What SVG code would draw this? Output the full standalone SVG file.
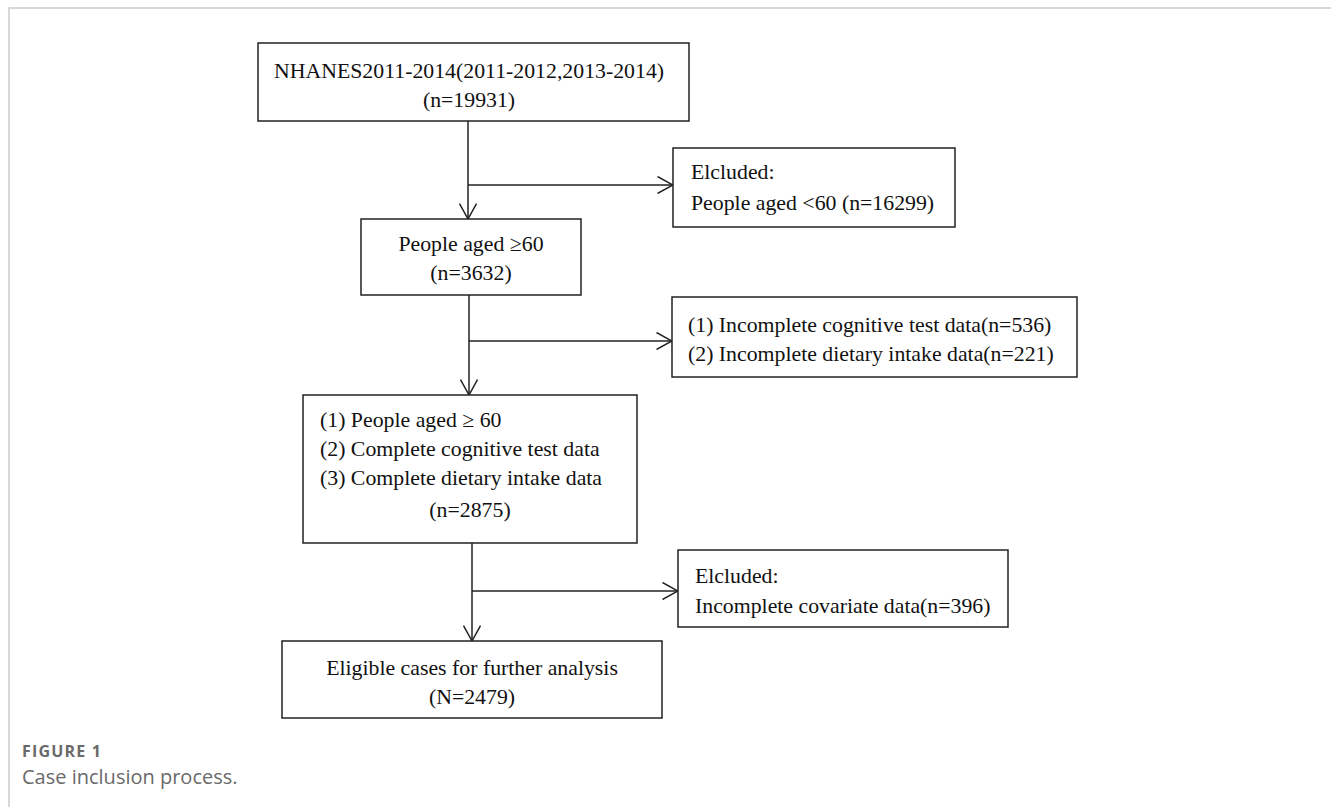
<svg xmlns="http://www.w3.org/2000/svg" width="1331" height="807" viewBox="0 0 1331 807">
<defs>
<style>
.box{fill:#fff;stroke:#222;stroke-width:1.5}
.t{font-family:"Liberation Serif","Times New Roman",serif;font-size:21.8px;fill:#111}
.c{text-anchor:middle}
.ln{stroke:#222;stroke-width:1.5;fill:none}
.cap1{font-family:"Open Sans","Noto Sans",sans-serif;font-size:16px;font-weight:bold;fill:#6a6a6a;letter-spacing:1.2px}
.cap2{font-family:"Open Sans","Noto Sans",sans-serif;font-size:20px;fill:#6a6a6a}
</style>
<marker id="ah" viewBox="0 0 16 18" refX="16" refY="9" markerWidth="16" markerHeight="18" markerUnits="userSpaceOnUse" orient="auto">
<path d="M0.5,0.5 L16,9 L0.5,17.5" fill="none" stroke="#222" stroke-width="1.5"/>
</marker>
</defs>
<rect width="1331" height="807" fill="#fff"/>
<path d="M9,807 L9,8 L1331,8" fill="none" stroke="#ccc" stroke-width="1.5"/>
<g id="connectors">
<line class="ln" x1="468" y1="121" x2="468" y2="219" marker-end="url(#ah)"/>
<line class="ln" x1="468" y1="185" x2="673" y2="185" marker-end="url(#ah)"/>
<line class="ln" x1="469" y1="295" x2="469" y2="395" marker-end="url(#ah)"/>
<line class="ln" x1="469" y1="341" x2="672" y2="341" marker-end="url(#ah)"/>
<line class="ln" x1="472" y1="543" x2="472" y2="641" marker-end="url(#ah)"/>
<line class="ln" x1="472" y1="591" x2="678" y2="591" marker-end="url(#ah)"/>
</g>
<g id="n1">
<rect class="box" x="258" y="43" width="431" height="78"/>
<text class="t c" x="469" y="78">NHANES2011-2014(2011-2012,2013-2014)</text>
<text class="t c" x="469" y="107">(n=19931)</text>
</g>
<g id="n2">
<rect class="box" x="673" y="148" width="282" height="79"/>
<text class="t" x="691" y="179">Elcluded:</text>
<text class="t" x="691" y="210">People aged &lt;60 (n=16299)</text>
</g>
<g id="n3">
<rect class="box" x="361" y="219" width="220" height="76"/>
<text class="t c" x="471" y="251">People aged ≥60</text>
<text class="t c" x="471" y="280">(n=3632)</text>
</g>
<g id="n4">
<rect class="box" x="672" y="297" width="405" height="80"/>
<text class="t" x="688" y="332">(1) Incomplete cognitive test data(n=536)</text>
<text class="t" x="688" y="361">(2) Incomplete dietary intake data(n=221)</text>
</g>
<g id="n5">
<rect class="box" x="303" y="395" width="334" height="148"/>
<text class="t" x="320" y="427">(1) People aged ≥ 60</text>
<text class="t" x="320" y="456">(2) Complete cognitive test data</text>
<text class="t" x="320" y="485">(3) Complete dietary intake data</text>
<text class="t c" x="470" y="517">(n=2875)</text>
</g>
<g id="n6">
<rect class="box" x="678" y="550" width="330" height="77"/>
<text class="t" x="695" y="583">Elcluded:</text>
<text class="t" x="695" y="613">Incomplete covariate data(n=396)</text>
</g>
<g id="n7">
<rect class="box" x="282" y="641" width="380" height="77"/>
<text class="t c" x="472" y="675">Eligible cases for further analysis</text>
<text class="t c" x="472" y="704">(N=2479)</text>
</g>
<text class="cap1" x="22" y="757">FIGURE 1</text>
<text class="cap2" x="22" y="784">Case inclusion process.</text>
</svg>
